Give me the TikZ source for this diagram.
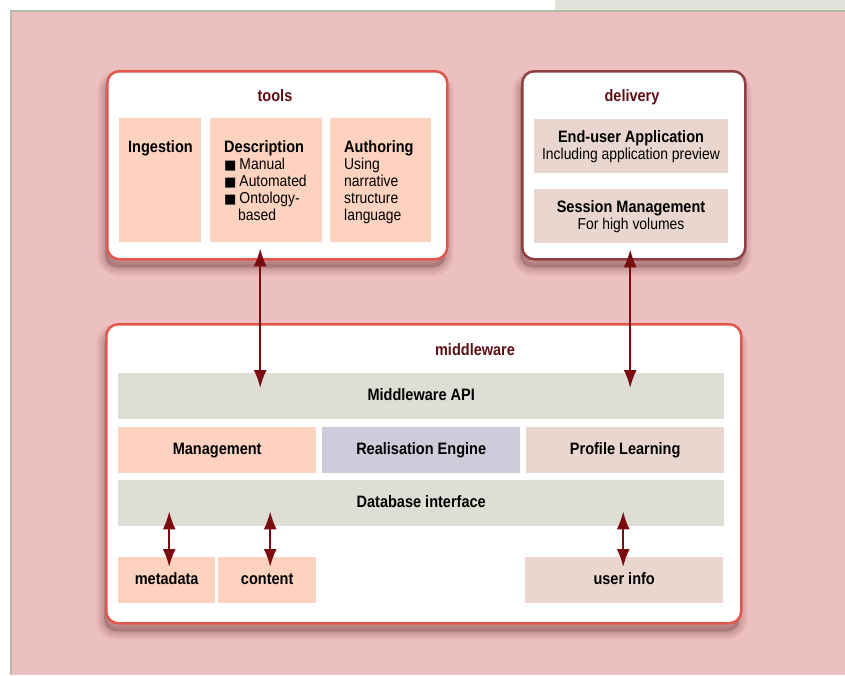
\documentclass[tikz,border=0pt]{standalone}
\usepackage{fontspec}
\setmainfont{Liberation Sans}[FakeStretch=0.88]
\newfontfamily\symfont{DejaVu Sans}
\usetikzlibrary{arrows.meta,shadows}
\definecolor{pinkbg}{HTML}{ECBFC1}
\definecolor{framec}{HTML}{B5BBA5}
\definecolor{topgray}{HTML}{E2E2DC}
\definecolor{redb}{HTML}{E2574C}
\definecolor{delb}{HTML}{8E4040}
\definecolor{titlec}{HTML}{5E0E14}
\definecolor{peach}{HTML}{FDD3BF}
\definecolor{greyg}{HTML}{DEDED4}
\definecolor{lav}{HTML}{CCCCDA}
\definecolor{rose}{HTML}{E9D7CF}
\definecolor{arrc}{HTML}{7A0C10}
\definecolor{shadc}{HTML}{5A2020}
\tikzset{
  shd/.style={preaction={draw=shadc, fill=shadc, line width=#1, opacity=0.07, transform canvas={xshift=-2pt,yshift=-8pt}}},
  outer/.style={draw, line width=2.5pt, fill=white, rounded corners=12pt, anchor=north west, inner sep=0pt,
    shd=16pt, shd=11pt, shd=7pt, shd=3pt},
  inbox/.style={anchor=north west, inner sep=0pt, text height=12pt, text depth=3pt, font=\fontsize{16.5}{17}\selectfont\bfseries},
  lbl/.style={anchor=base west, inner sep=0pt, font=\fontsize{15.8}{17}\selectfont},
  clbl/.style={anchor=base, inner sep=0pt, font=\fontsize{15.8}{17}\selectfont},
  ttl/.style={anchor=base, inner sep=0pt, text=titlec, font=\fontsize{16.5}{17}\selectfont\bfseries},
  dbl/.style={draw=arrc, line width=2pt, {Latex[length=18pt,width=13pt]}-{Latex[length=18pt,width=13pt]}}
}
\newcommand{\blt}{{\symfont\fontsize{13}{13}\selectfont ■}\hspace{3pt}}
\begin{document}
\begin{tikzpicture}[x=1pt,y=-1pt]
\useasboundingbox (0,0) rectangle (845,675);
\fill[white] (0,0) rectangle (845,675);
\fill[topgray] (555,0) rectangle (845,10);
\fill[pinkbg] (11,11) rectangle (845,675);
\draw[framec, line width=2pt] (11,675) -- (11,11) -- (845,11);

% outer boxes
\node[outer, draw=redb, minimum width=340pt, minimum height=188pt] (tools) at (106,70) {};
\node[outer, draw=delb, minimum width=223pt, minimum height=188pt] (delivery) at (521,70) {};
\node[outer, draw=redb, minimum width=635pt, minimum height=299pt] (middle) at (105,323) {};

% titles
\node[ttl] (toolsT) at (275,101) {tools};
\node[ttl] (delT) at (632,101) {delivery};
\node[ttl] (midT) at (475,355) {middleware};

% tools inner boxes
\node[inbox, fill=peach, minimum width=82pt, minimum height=124pt] (ing) at (119,118) {};
\node[inbox, fill=peach, minimum width=112pt, minimum height=124pt] (desc) at (210,118) {};
\node[inbox, fill=peach, minimum width=101pt, minimum height=124pt] (auth) at (330,118) {};
\node[lbl, font=\fontsize{16.5}{17}\selectfont\bfseries] (ingT) at (128,152) {Ingestion};
\node[lbl, font=\fontsize{16.5}{17}\selectfont\bfseries] (descT) at (224,152) {Description};
\node[lbl] (d1) at (224,169) {\blt Manual};
\node[lbl] (d2) at (224,186) {\blt Automated};
\node[lbl] (d3) at (224,203) {\blt Ontology-};
\node[lbl] (d4) at (238,220) {based};
\node[lbl, font=\fontsize{16.5}{17}\selectfont\bfseries] (authT) at (344,152) {Authoring};
\node[lbl] (a1) at (344,169) {Using};
\node[lbl] (a2) at (344,186) {narrative};
\node[lbl] (a3) at (344,203) {structure};
\node[lbl] (a4) at (344,220) {language};

% delivery inner boxes
\node[inbox, fill=rose, minimum width=194pt, minimum height=54pt] (endu) at (534,119) {};
\node[inbox, fill=rose, minimum width=194pt, minimum height=54pt] (sess) at (534,189) {};
\node[clbl, font=\fontsize{16.5}{17}\selectfont\bfseries] (enduT) at (631,142) {End-user Application};
\node[clbl] (enduS) at (631,159) {Including application preview};
\node[clbl, font=\fontsize{16.5}{17}\selectfont\bfseries] (sessT) at (631,212) {Session Management};
\node[clbl] (sessS) at (631,229) {For high volumes};

% middleware inner boxes
\node[inbox, fill=greyg, minimum width=606pt, minimum height=46pt] (api) at (118,373) {Middleware API};
\node[inbox, fill=peach, minimum width=198pt, minimum height=46pt] (mgmt) at (118,427) {Management};
\node[inbox, fill=lav, minimum width=198pt, minimum height=46pt] (real) at (322,427) {Realisation Engine};
\node[inbox, fill=rose, minimum width=198pt, minimum height=46pt] (prof) at (526,427) {Profile Learning};
\node[inbox, fill=greyg, minimum width=606pt, minimum height=46pt] (db) at (118,480) {Database interface};
\node[inbox, fill=peach, minimum width=97pt, minimum height=46pt] (meta) at (118,557) {metadata};
\node[inbox, fill=peach, minimum width=98pt, minimum height=46pt] (cont) at (218,557) {content};
\node[inbox, fill=rose, minimum width=198pt, minimum height=46pt] (uinfo) at (525,557) {user info};

% connectors
\draw[dbl] ([xshift=-6pt,yshift=-6pt]desc.south) -- ([xshift=-6pt,yshift=-15pt]desc.south |- api.north);
\draw[dbl] ([xshift=-1pt,yshift=-6pt]sess.south) -- ([xshift=-1pt,yshift=-15pt]sess.south |- api.north);
\draw[dbl] ([xshift=2.5pt,yshift=15pt]meta.north |- db.south) -- ([xshift=2.5pt,yshift=-10pt]meta.north);
\draw[dbl] ([xshift=3pt,yshift=15pt]cont.north |- db.south) -- ([xshift=3pt,yshift=-10pt]cont.north);
\draw[dbl] ([xshift=-1pt,yshift=15pt]uinfo.north |- db.south) -- ([xshift=-1pt,yshift=-10pt]uinfo.north);
\end{tikzpicture}
\end{document}
